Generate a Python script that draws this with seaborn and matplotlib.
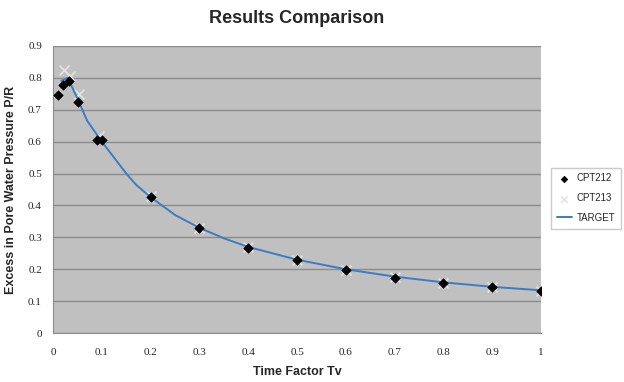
import matplotlib
matplotlib.use("Agg")
import matplotlib.pyplot as plt
import seaborn as sns
import pandas as pd

# values
cpt212_tv = [0.01, 0.02, 0.033, 0.052, 0.091, 0.101, 0.2, 0.3, 0.4, 0.5, 0.6, 0.7, 0.8, 0.9, 1.0]
cpt212_pr = [0.745, 0.778, 0.79, 0.724, 0.604, 0.604, 0.426, 0.328, 0.268, 0.228, 0.198, 0.174, 0.157, 0.143, 0.131]

cpt213_tv = [0.022, 0.035, 0.054, 0.095, 0.2, 0.3, 0.4, 0.5, 0.6, 0.7, 0.8, 0.9, 1.0]
cpt213_pr = [0.824, 0.805, 0.748, 0.618, 0.43, 0.33, 0.27, 0.228, 0.198, 0.176, 0.158, 0.144, 0.132]

target_tv = [0.017, 0.03, 0.05, 0.07, 0.1, 0.12, 0.15, 0.17, 0.2, 0.25, 0.3, 0.35, 0.4, 0.5, 0.6, 0.7, 0.8, 0.9, 1.0]
target_pr = [0.79, 0.80, 0.735, 0.665, 0.60, 0.56, 0.50, 0.465, 0.426, 0.37, 0.33, 0.297, 0.27, 0.23, 0.20, 0.177, 0.159, 0.145, 0.134]

sns.set_style("white")
plt.rcParams["font.family"] = ["Liberation Sans", "DejaVu Sans"]

fig = plt.figure(figsize=(6.24, 3.82), dpi=100)
ax = fig.add_axes([0.085, 0.128, 0.782, 0.752])
ax.set_facecolor("#C0C0C0")

df212 = pd.DataFrame({"tv": cpt212_tv, "pr": cpt212_pr})
df213 = pd.DataFrame({"tv": cpt213_tv, "pr": cpt213_pr})
dft = pd.DataFrame({"tv": target_tv, "pr": target_pr})

sns.scatterplot(data=df213, x="tv", y="pr", marker="x", s=50, color="#E4E4E4",
                linewidth=1.2, ax=ax, label="CPT213", zorder=3)
sns.lineplot(data=dft, x="tv", y="pr", color="#3A7DC0", linewidth=1.4,
             ax=ax, label="TARGET", sort=True, zorder=4)
sns.scatterplot(data=df212, x="tv", y="pr", marker="D", s=24, color="black",
                edgecolor="black", ax=ax, label="CPT212", zorder=5)

ax.set_xlim(0, 1)
ax.set_ylim(0, 0.9)
ax.set_xticks([i / 10 for i in range(11)])
ax.set_yticks([i / 10 for i in range(10)])
ax.set_xticklabels(["0"] + [f"0.{i}" for i in range(1, 10)] + ["1"])
ax.set_yticklabels(["0"] + [f"0.{i}" for i in range(1, 10)])
for lab in ax.get_xticklabels() + ax.get_yticklabels():
    lab.set_family("Liberation Serif")
    lab.set_fontsize(8)
ax.grid(axis="y", color="#8C8C8C", linewidth=1.0)
ax.set_axisbelow(True)
for s in ["top", "right"]:
    ax.spines[s].set_visible(False)
for s in ["left", "bottom"]:
    ax.spines[s].set_color("#8C8C8C")
ax.tick_params(axis="both", length=4, color="#8C8C8C", direction="out", pad=4)
ax.tick_params(axis="x", pad=7)

ax.set_xlabel("Time Factor Tv", fontsize=9, fontweight="bold", labelpad=6)
ax.set_ylabel("Excess in Pore Water Pressure P/R", fontsize=9, fontweight="bold", labelpad=8)
fig.suptitle("Results Comparison", fontsize=13, fontweight="bold", x=0.475, y=0.975)

handles, labels = ax.get_legend_handles_labels()
order = [labels.index(n) for n in ["CPT212", "CPT213", "TARGET"]]
leg = ax.legend([handles[i] for i in order], [labels[i] for i in order],
                loc="center left", bbox_to_anchor=(1.01, 0.47), fontsize=7,
                frameon=True, fancybox=False, edgecolor="#BFBFBF",
                handlelength=1.6, handletextpad=0.5, borderpad=0.6,
                labelspacing=1.0, markerscale=0.7)

fig.savefig("out.png", dpi=100)
